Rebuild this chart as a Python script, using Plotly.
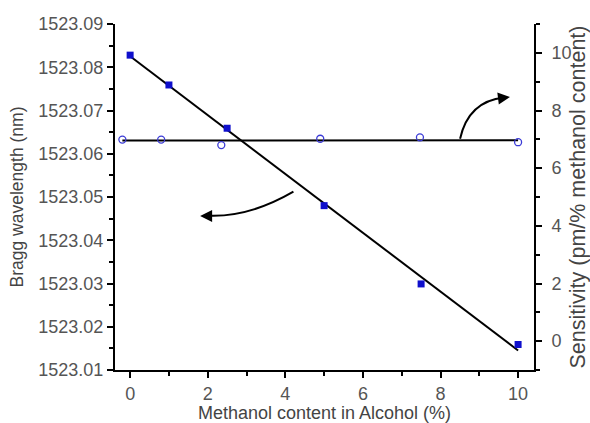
import numpy as np
import plotly.graph_objects as go

# Bragg wavelength shift vs. methanol content
methanol_pct = [0, 1, 2.5, 5, 7.5, 10]
bragg_nm = [1523.0828, 1523.0759, 1523.0659, 1523.0480, 1523.0299, 1523.0159]

# Sensitivity measurements (pm per % methanol)
sens_x = [-0.2, 0.8, 2.35, 4.9, 7.47, 10.0]
sens_val = [6.99, 6.99, 6.80, 7.02, 7.07, 6.90]

x_ticks = [0, 2, 4, 6, 8, 10]
left_ticks = [1523.01, 1523.02, 1523.03, 1523.04, 1523.05, 1523.06, 1523.07, 1523.08, 1523.09]
right_ticks = [0, 2, 4, 6, 8, 10]

# Curved pointer arrows: (start, control, end, tip) in data units
arrow_left = dict(p0=(4.209, 1523.05123), c=(3.041, 1523.04514), p1=(1.959, 1523.04572), tip=(1.804, 1523.04561))
arrow_right = dict(p0=(8.505, 7.018), c=(8.72, 8.32), p1=(9.64, 8.45), tip=(9.79, 8.47))

FONT = "Liberation Sans, Arial, sans-serif"
BLUE = "#0f0fcc"

fig = go.Figure()

# Linear fit of wavelength
k, b = np.polyfit(methanol_pct, bragg_nm, 1)
xf = np.array([min(methanol_pct), max(methanol_pct)])
fig.add_trace(go.Scatter(x=xf, y=k * xf + b, mode="lines",
                         line=dict(color="black", width=2), showlegend=False))
fig.add_trace(go.Scatter(x=methanol_pct, y=bragg_nm, mode="markers",
                         marker=dict(symbol="square", size=7, color=BLUE,
                                     line=dict(width=0)), showlegend=False))

# Fit of sensitivity
k2, b2 = np.polyfit(sens_x, sens_val, 1)
xs = np.array([min(sens_x), max(sens_x)])
fig.add_trace(go.Scatter(x=xs, y=k2 * xs + b2, mode="lines", yaxis="y2",
                         line=dict(color="black", width=2), showlegend=False))
fig.add_trace(go.Scatter(x=sens_x, y=sens_val, mode="markers", yaxis="y2",
                         marker=dict(symbol="circle-open", size=7, color="#3b3bd6",
                                     line=dict(width=1.3)), showlegend=False))

shapes = []
annotations = []
for arr, yref in ((arrow_left, "y"), (arrow_right, "y2")):
    (x0, y0), (cx, cy), (x1, y1) = arr["p0"], arr["c"], arr["p1"]
    shapes.append(dict(type="path", xref="x", yref=yref,
                       path=f"M {x0},{y0} Q {cx},{cy} {x1},{y1}",
                       line=dict(color="black", width=2)))
    tx, ty = arr["tip"]
    annotations.append(dict(x=tx, y=ty, xref="x", yref=yref, text="",
                            showarrow=True, arrowhead=2, arrowsize=1.2,
                            arrowwidth=2, arrowcolor="black",
                            ax=8 if yref == "y" else -8, ay=0 if yref == "y" else 1))

axis_common = dict(showline=True, linecolor="black", linewidth=2, showgrid=False,
                   zeroline=False, ticks="outside", ticklen=6, tickwidth=1.5,
                   tickcolor="black", automargin=False,
                   tickfont=dict(family=FONT, size=18, color="#555"))
minor_common = dict(ticks="outside", ticklen=4, tickcolor="black", tickwidth=1.5)

fig.update_layout(
    width=590, height=423,
    margin=dict(l=115, r=56, t=24, b=53),
    paper_bgcolor="white", plot_bgcolor="white",
    font=dict(family=FONT, color="#444"),
    xaxis=dict(range=[-0.39, 10.41], tickmode="linear", tick0=x_ticks[0],
               dtick=x_ticks[1] - x_ticks[0],
               minor=dict(dtick=1, tick0=0, **minor_common),
               title=dict(text="Methanol content in Alcohol (%)",
                          font=dict(family=FONT, size=18, color="#444"), standoff=4),
               **axis_common),
    yaxis=dict(range=[1523.01, 1523.09], tickmode="linear", tick0=left_ticks[0],
               dtick=0.01, tickformat=".2f",
               minor=dict(dtick=0.005, tick0=1523.01, **minor_common),
               title=dict(text="Bragg wavelength (nm)",
                          font=dict(family=FONT, size=17.5, color="#444"), standoff=10),
               **axis_common),
    yaxis2=dict(range=[-1, 11], tickmode="linear", tick0=right_ticks[0],
                dtick=right_ticks[1] - right_ticks[0],
                overlaying="y", side="right", anchor="x", ticklabelstandoff=6,
                minor=dict(dtick=1, tick0=-1, **minor_common),
                title=dict(text="Sensitivity (pm/% methanol content)",
                           font=dict(family=FONT, size=21.5, color="#444"), standoff=10),
                **axis_common),
    shapes=shapes,
    annotations=annotations,
)

fig.write_html("out.html")
